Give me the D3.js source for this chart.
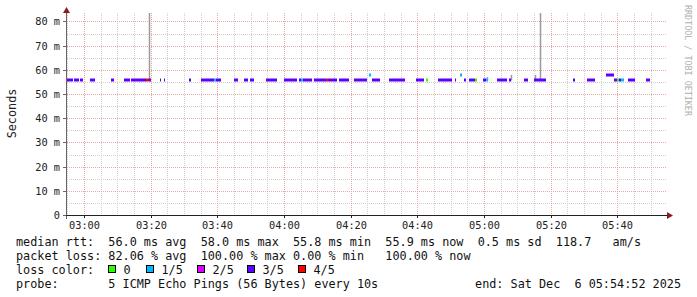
<!DOCTYPE html>
<html>
<head>
<meta charset="utf-8">
<script src="https://cdn.jsdelivr.net/npm/d3@7"></script>
<style>
  body { margin: 0; background: #fff; }
  svg text { font-family: "DejaVu Sans Mono", monospace; }
</style>
</head>
<body>
<svg id="chart"></svg>
<script>
// median rtt runs, colored by how many of the 5 pings were lost
const runStart = ["02:54:52","02:56:58","02:58:46","03:01:46","03:08:12","03:11:58","03:14:04","03:18:34","03:19:28","03:22:46",
  "03:23:58","03:31:28","03:35:04","03:38:58","03:39:34","03:44:58","03:47:58","03:49:46","03:54:34","03:59:58",
  "04:04:28","04:05:04","04:05:40","04:09:00","04:12:34","04:13:10","04:16:28","04:20:58","04:25:28","04:26:22",
  "04:31:28","04:39:34","04:42:34","04:46:10","04:51:16","04:52:46","04:53:58","04:55:28","04:57:16","04:59:40",
  "05:00:34","05:03:52","05:07:28","05:11:58","05:14:58","05:26:40","05:30:52","05:36:34","05:38:58","05:39:52",
  "05:40:28","05:41:04","05:43:10","05:48:34"];
const runEnd = ["02:56:40","02:58:28","02:59:40","03:03:16","03:08:58","03:13:46","03:18:34","03:19:28","03:20:04","03:23:04",
  "03:24:16","03:32:04","03:38:58","03:39:34","03:41:04","03:46:10","03:49:10","03:50:58","03:57:52","04:03:52",
  "04:05:04","04:05:40","04:08:22","04:12:34","04:13:10","04:15:52","04:19:28","04:24:52","04:26:04","04:28:46",
  "04:36:16","04:41:58","04:43:10","04:50:22","04:51:34","04:53:22","04:54:34","04:57:16","04:57:52","05:00:34",
  "05:01:10","05:06:52","05:08:04","05:13:10","05:18:34","05:27:16","05:33:16","05:38:58","05:39:52","05:40:28",
  "05:41:04","05:41:58","05:45:16","05:49:46"];
const runLoss = [3,3,3,3,3,3,3,4,3,3, 3,3,3,1,3,3,3,3,3,3, 3,1,3,3,4,3,3,3,1,3,
  3,3,0,3,3,1,3,3,0,3, 1,3,3,3,3,3,3,3,3,0, 3,1,3,3];
const runRtt = [56,56,56,56,56,56,56,56,56,56, 56,56,56,56,56,56,56,56,56,56, 56,56,56,56,56,56,56,56,58,56,
  56,56,56,56,56,58,56,56,56,56, 56,56,56,56,56,56,56,58,56,56, 56,56,56,56];

// smoke (spread of the single pings)
const smokeTime = ["03:19:28","05:00:52","05:08:04","05:15:16","05:16:46"];
const smokeLo = [55.8,55.8,55.8,55.8,55.8];
const smokeHi = [95,57.2,58.1,58.1,95];

const yTicks = [0,10,20,30,40,50,60,70,80];
const lossLabels = ["0","1/5","2/5","3/5","4/5"];
const lossColors = ["#26ff00","#00b8ff","#dd00ff","#5e00ff","#ff0000"];
const statLines = [
  "median rtt:  56.0 ms avg  58.0 ms max  55.8 ms min  55.9 ms now  0.5 ms sd  118.7   am/s",
  "packet loss: 82.06 % avg  100.00 % max 0.00 % min   100.00 % now"
];
const probeLine = "probe:       5 ICMP Echo Pings (56 Bytes) every 10s";
const endLine = "end: Sat Dec  6 05:54:52 2025";

const W = 697, H = 297;
const parse = d3.timeParse("%H:%M:%S");
const t0 = parse("02:54:52"), t1 = parse("05:54:52");

const svg = d3.select("#chart").attr("width", W).attr("height", H);
svg.append("rect").attr("width", W).attr("height", H).attr("fill", "#fff");

const x = d3.scaleTime().domain([t0, t1]).range([67, 667]);
const y = d3.scaleLinear().domain([0, 83.5]).range([215.5, 13.5]);
const cx = v => Math.round(x(v)) + 0.5;
const cy = v => Math.floor(y(v)) + 0.5;

// grid
const grid = svg.append("g").attr("stroke-dasharray", "1 1").attr("stroke-width", 1);
d3.range(5, 80, 10).forEach(v => {
  grid.append("line").attr("x1", 67).attr("x2", 667).attr("y1", cy(v)).attr("y2", cy(v)).attr("stroke", "#cfcfcf");
});
x.ticks(d3.timeMinute.every(5)).filter(d => d.getMinutes() % 20 !== 0).forEach(d => {
  grid.append("line").attr("x1", cx(d)).attr("x2", cx(d)).attr("y1", 13).attr("y2", 215).attr("stroke", "#cfcfcf");
});
yTicks.filter(v => v > 0).forEach(v => {
  grid.append("line").attr("x1", 67).attr("x2", 667).attr("y1", cy(v)).attr("y2", cy(v)).attr("stroke", "#e8a8a8");
});
x.ticks(d3.timeMinute.every(20)).forEach(d => {
  grid.append("line").attr("x1", cx(d)).attr("x2", cx(d)).attr("y1", 13).attr("y2", 215).attr("stroke", "#e8a8a8");
});

// data
svg.append("clipPath").attr("id", "plot").append("rect").attr("x", 67).attr("y", 13).attr("width", 600).attr("height", 203);
const plot = svg.append("g").attr("clip-path", "url(#plot)");

plot.selectAll("line.smoke")
  .data(smokeTime.map((t, i) => ({ t: parse(t), lo: smokeLo[i], hi: smokeHi[i] })))
  .enter().append("line")
  .attr("class", "smoke")
  .attr("x1", d => cx(d.t)).attr("x2", d => cx(d.t))
  .attr("y1", d => y(d.lo)).attr("y2", d => y(d.hi))
  .attr("stroke", "#9a9a9a").attr("stroke-width", 1.5);

plot.selectAll("rect.med")
  .data(runStart.map((s, i) => ({ s: parse(s), e: parse(runEnd[i]), loss: runLoss[i], rtt: runRtt[i] })))
  .enter().append("rect")
  .attr("class", "med")
  .attr("x", d => Math.round(x(d.s)))
  .attr("width", d => Math.max(1, Math.round(x(d.e)) - Math.round(x(d.s))))
  .attr("y", d => Math.round(y(d.rtt)) - 1.5)
  .attr("height", 3)
  .attr("fill", d => lossColors[d.loss]);

// axes
svg.append("line").attr("x1", 66.5).attr("x2", 66.5).attr("y1", 219).attr("y2", 12).attr("stroke", "#666");
svg.append("line").attr("x1", 63).attr("x2", 668).attr("y1", 215.5).attr("y2", 215.5).attr("stroke", "#222");
svg.append("path").attr("d", "M63,13L70,13L66.5,7Z").attr("fill", "#8c1c1c");
svg.append("path").attr("d", "M667,212L667,219L673,215.5Z").attr("fill", "#8c1c1c");

x.ticks(d3.timeMinute.every(20)).forEach(d => {
  svg.append("line").attr("x1", cx(d)).attr("x2", cx(d)).attr("y1", 215).attr("y2", 218).attr("stroke", "#222");
});
yTicks.forEach(v => {
  svg.append("line").attr("x1", 63).attr("x2", 66).attr("y1", cy(v)).attr("y2", cy(v)).attr("stroke", "#666");
});

svg.selectAll("text.ytick").data(yTicks).enter().append("text")
  .attr("class", "ytick")
  .attr("x", 60).attr("y", v => cy(v)).attr("dy", "0.35em")
  .attr("text-anchor", "end").attr("font-size", 10.3).attr("fill", "#222")
  .text(v => v === 0 ? "0" : v + " m");

svg.selectAll("text.xtick").data(x.ticks(d3.timeMinute.every(20))).enter().append("text")
  .attr("class", "xtick")
  .attr("x", d => cx(d)).attr("y", 228.5)
  .attr("text-anchor", "middle").attr("font-size", 10.3).attr("fill", "#222")
  .text(d3.timeFormat("%H:%M"));

svg.append("text")
  .attr("transform", "translate(16,113.5) rotate(-90)")
  .attr("text-anchor", "middle").attr("font-size", 11.8).attr("fill", "#222")
  .text("Seconds");

svg.append("text")
  .attr("transform", "translate(685,5) rotate(90)")
  .attr("font-size", 8.4).attr("fill", "#b0b0b0")
  .text("RRDTOOL / TOBI OETIKER");

// legend
const leg = svg.append("g").attr("font-size", 11.8).attr("fill", "#111").style("white-space", "pre");
statLines.forEach((s, i) => {
  leg.append("text").attr("x", 16).attr("y", 245.5 + i * 14).attr("xml:space", "preserve").text(s);
});
leg.append("text").attr("x", 16).attr("y", 273.5).text("loss color:");
const boxX = [108.5, 146.5, 197.5, 247.5, 298.5];
lossLabels.forEach((l, i) => {
  leg.append("rect").attr("x", boxX[i]).attr("y", 265.5).attr("width", 7).attr("height", 7)
    .attr("fill", lossColors[i]).attr("stroke", "#000").attr("stroke-width", 1);
  leg.append("text").attr("x", boxX[i] + 15).attr("y", 273.5).text(l);
});
leg.append("text").attr("x", 16).attr("y", 287.5).attr("xml:space", "preserve").text(probeLine);
leg.append("text").attr("x", 681).attr("y", 287.5).attr("text-anchor", "end").attr("xml:space", "preserve").text(endLine);
</script>
</body>
</html>
